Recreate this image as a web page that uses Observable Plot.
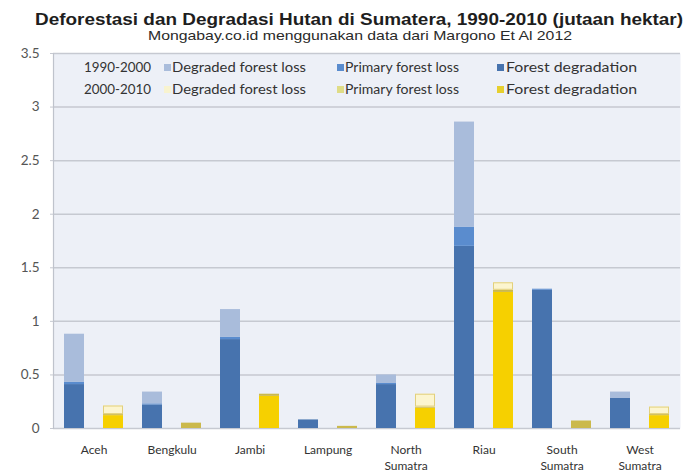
<!DOCTYPE html>
<html>
<head>
<meta charset="utf-8">
<script src="https://cdn.jsdelivr.net/npm/d3@7"></script>
<script src="https://cdn.jsdelivr.net/npm/@observablehq/plot@0.6"></script>
<style>
  html, body { margin: 0; padding: 0; background: #ffffff; }
  #wrap { position: relative; width: 685px; height: 475px; overflow: hidden; font-family: Lato, "Open Sans", sans-serif; }
  .fit { position: absolute; display: inline-block; white-space: nowrap; transform-origin: 0 50%; }
  #title { top: 10px; left: 35px; font: bold 17px "Liberation Sans", Arial, sans-serif; color: #1e1e1e; }
  #subtitle { top: 28px; left: 148px; font: 13px "Liberation Sans", Arial, sans-serif; color: #2a2a2a; }
  #chart { position: absolute; top: 38px; left: 0; }
  #legend { position: absolute; top: 60px; left: 0; width: 685px; height: 40px; font: 13.5px Lato, sans-serif; color: #333; }
  .lg { line-height: 14px; }
  .sw { position: absolute; width: 7px; height: 7px; }
</style>
</head>
<body>
<div id="wrap">
  <div id="title" class="fit"></div>
  <div id="subtitle" class="fit"></div>
  <div id="chart"></div>
  <div id="legend"></div>
</div>
<script>
const titleText = "Deforestasi dan Degradasi Hutan di Sumatera, 1990-2010 (jutaan hektar)";
const subtitleText = "Mongabay.co.id menggunakan data dari Margono Et Al 2012";

const regions = ["Aceh", "Bengkulu", "Jambi", "Lampung", "North Sumatra", "Riau", "South Sumatra", "West Sumatra"];
const periods = ["1990-2000", "2000-2010"];
const components = ["Forest degradation", "Primary forest loss", "Degraded forest loss"];

// 1990-2000 (million ha)
const degradation1990 = [0.41, 0.22, 0.83, 0.08, 0.41, 1.70, 1.29, 0.28];
const primary1990     = [0.02, 0.01, 0.02, 0.00, 0.01, 0.18, 0.01, 0.00];
const degraded1990    = [0.45, 0.11, 0.26, 0.00, 0.08, 0.98, 0.00, 0.06];
// 2000-2010 (million ha)
const degradation2000 = [0.12, 0.00, 0.30, 0.00, 0.19, 1.27, 0.00, 0.12];
const primary2000     = [0.01, 0.05, 0.02, 0.02, 0.01, 0.02, 0.07, 0.01];
const degraded2000    = [0.08, 0.00, 0.00, 0.00, 0.12, 0.07, 0.00, 0.07];

const yTicks = [0, 0.5, 1, 1.5, 2, 2.5, 3, 3.5];

const colors1990 = ["#4773ae", "#5a8cce", "#a9bcdb"];
const colors2000 = ["#f6d000", "#cbb94c", "#fcf5cf"];
const legendColors1990 = ["#a9bcdb", "#5a8cce", "#4773ae"];
const legendColors2000 = ["#f8f3cf", "#dfdc86", "#e6cf2e"];
const legendLabels = ["Degraded forest loss", "Primary forest loss", "Forest degradation"];

function fit(el, target) {
  const w = el.getBoundingClientRect().width;
  if (w > 0) el.style.transform = "scaleX(" + (target / w) + ")";
}

const titleEl = document.getElementById("title");
titleEl.textContent = titleText;
fit(titleEl, 648);
const subEl = document.getElementById("subtitle");
subEl.textContent = subtitleText;
fit(subEl, 424);

const series = {
  "1990-2000": [degradation1990, primary1990, degraded1990],
  "2000-2010": [degradation2000, primary2000, degraded2000]
};
const rows = [];
regions.forEach((r, i) => {
  periods.forEach(p => {
    components.forEach((c, j) => {
      rows.push({region: r, period: p, comp: c, key: r + "|" + p, ck: p + " " + c, v: series[p][j][i]});
    });
  });
});
const keys = regions.flatMap(r => periods.map(p => r + "|" + p));
const firstKeys = regions.map(r => r + "|" + periods[0]);
const colorDomain = [...components.map(c => periods[0] + " " + c), ...components.map(c => periods[1] + " " + c)];
const colorRange = [...colors1990, ...colors2000];
const outlined = periods[1] + " " + components[2];

const W = 685, H = 437, mL = 53, mR = 5;
const step = (W - mL - mR) / keys.length;

const chart = Plot.plot({
  width: W, height: H,
  marginLeft: mL, marginRight: mR, marginTop: 15, marginBottom: 47,
  style: {background: "transparent", fontFamily: "Lato, sans-serif"},
  x: {domain: keys, paddingInner: 0.49, paddingOuter: 0.245, axis: null},
  y: {domain: [0, 3.5], axis: null},
  color: {domain: colorDomain, range: colorRange},
  opacity: {type: "identity"},
  marks: [
    Plot.frame({fill: "#edf0f7", stroke: null}),
    Plot.gridY(yTicks, {stroke: "#c6c9d1", strokeOpacity: 1, strokeWidth: 1.5}),
    Plot.frame({anchor: "left", stroke: "#bfc3cc", strokeWidth: 1.2}),
    Plot.axisY(yTicks, {label: null, tickSize: 3, tickPadding: 11, stroke: "#c6c9d1", tickFormat: d => String(d), fontSize: 13.5, fill: "#555"}),
    Plot.barY(rows, {x: "key", y: "v", fill: "ck", order: null}),
    Plot.barY(rows, {x: "key", y: "v", fill: "none", stroke: "#e2d07c", strokeWidth: 1, inset: 0.5, order: null,
      strokeOpacity: d => (d.ck === outlined && d.v > 0) ? 1 : 0}),
    Plot.axisX(firstKeys, {label: null, tickSize: 0, tickPadding: 14, dx: step / 2, fontSize: 12, fill: "#333", lineHeight: 1.35,
      tickFormat: k => k.split("|")[0].replace(" ", "\n")})
  ]
});
document.getElementById("chart").appendChild(chart);

// Legend
const legend = document.getElementById("legend");
const periodCol = {x: 84, w: 67};
const colX = [{sw: 164, tx: 172, w: 134}, {sw: 337, tx: 345, w: 114}, {sw: 497, tx: 506, w: 131}];
periods.forEach((p, row) => {
  const y = row * 22;
  const lab = document.createElement("div");
  lab.className = "fit lg"; lab.style.left = periodCol.x + "px"; lab.style.top = y + "px"; lab.textContent = p;
  legend.appendChild(lab);
  fit(lab, periodCol.w);
  const cols = row === 0 ? legendColors1990 : legendColors2000;
  legendLabels.forEach((t, j) => {
    const sw = document.createElement("div");
    sw.className = "sw"; sw.style.left = colX[j].sw + "px"; sw.style.top = (y + 4) + "px"; sw.style.background = cols[j];
    legend.appendChild(sw);
    const tx = document.createElement("div");
    tx.className = "fit lg"; tx.style.left = colX[j].tx + "px"; tx.style.top = y + "px"; tx.textContent = t;
    legend.appendChild(tx);
    fit(tx, colX[j].w);
  });
});
</script>
</body>
</html>
